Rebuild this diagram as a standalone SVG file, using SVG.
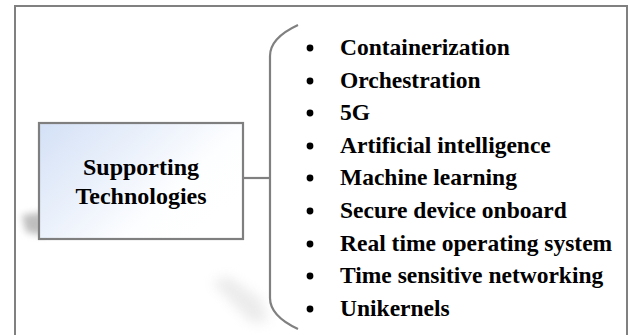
<svg xmlns="http://www.w3.org/2000/svg" width="632" height="335" viewBox="0 0 632 335">
  <defs>
    <linearGradient id="boxFill" x1="0" y1="0" x2="1" y2="0.6">
      <stop offset="0" stop-color="#d3e0f6"/>
      <stop offset="0.75" stop-color="#fdfeff"/>
      <stop offset="1" stop-color="#ffffff"/>
    </linearGradient>
    <filter id="blur6" x="-50%" y="-50%" width="200%" height="200%">
      <feGaussianBlur stdDeviation="6"/>
    </filter>
    <filter id="blur4" x="-50%" y="-50%" width="200%" height="200%">
      <feGaussianBlur stdDeviation="3.5"/>
    </filter>
  </defs>
  <style>
    .frame { fill: #ffffff; stroke: #808080; stroke-width: 2; }
    .box { fill: url(#boxFill); stroke: #7f7f7f; stroke-width: 2.2; }
    .label { font-family: "Liberation Serif", "Times New Roman", serif; font-weight: bold; font-size: 24px; fill: #000000; }
    .item { font-family: "Liberation Serif", "Times New Roman", serif; font-weight: bold; font-size: 23.5px; fill: #000000; }
    .bullet { fill: #000000; }
    .conn { fill: none; stroke: #808080; stroke-width: 2.2; }
  </style>

  <rect class="frame" x="15" y="6" width="612" height="340"/>

  <!-- soft shadows -->
  <g id="shadows">
    <path d="M22,215 L45,212 L45,236 L26,232 Z" fill="#8a8a8a" opacity="0.55" filter="url(#blur4)"/>
    <path d="M212,282 L228,276 L262,300 L268,322 L250,322 Z" fill="#c8c8c8" opacity="0.35" filter="url(#blur6)"/>
  </g>

  <g id="connectors">
    <line class="conn" x1="243" y1="178" x2="270" y2="178"/>
    <path class="conn" d="M298,25 Q270,38 270,56 L270,298 Q270,316 298,329"/>
  </g>

  <g id="node-supporting">
    <rect class="box" x="39" y="123" width="204" height="116"/>
    <text class="label" x="141" y="175" text-anchor="middle">Supporting</text>
    <text class="label" x="141" y="204" text-anchor="middle">Technologies</text>
  </g>

  <g id="list">
    <circle class="bullet" cx="310" cy="48" r="3.4"/>
    <text class="item" x="340" y="55">Containerization</text>
    <circle class="bullet" cx="310" cy="81" r="3.4"/>
    <text class="item" x="340" y="88">Orchestration</text>
    <circle class="bullet" cx="310" cy="113" r="3.4"/>
    <text class="item" x="340" y="120">5G</text>
    <circle class="bullet" cx="310" cy="146" r="3.4"/>
    <text class="item" x="340" y="153">Artificial intelligence</text>
    <circle class="bullet" cx="310" cy="178" r="3.4"/>
    <text class="item" x="340" y="185">Machine learning</text>
    <circle class="bullet" cx="310" cy="211" r="3.4"/>
    <text class="item" x="340" y="218">Secure device onboard</text>
    <circle class="bullet" cx="310" cy="244" r="3.4"/>
    <text class="item" x="340" y="251">Real time operating system</text>
    <circle class="bullet" cx="310" cy="276" r="3.4"/>
    <text class="item" x="340" y="283">Time sensitive networking</text>
    <circle class="bullet" cx="310" cy="309" r="3.4"/>
    <text class="item" x="340" y="316">Unikernels</text>
  </g>
</svg>
